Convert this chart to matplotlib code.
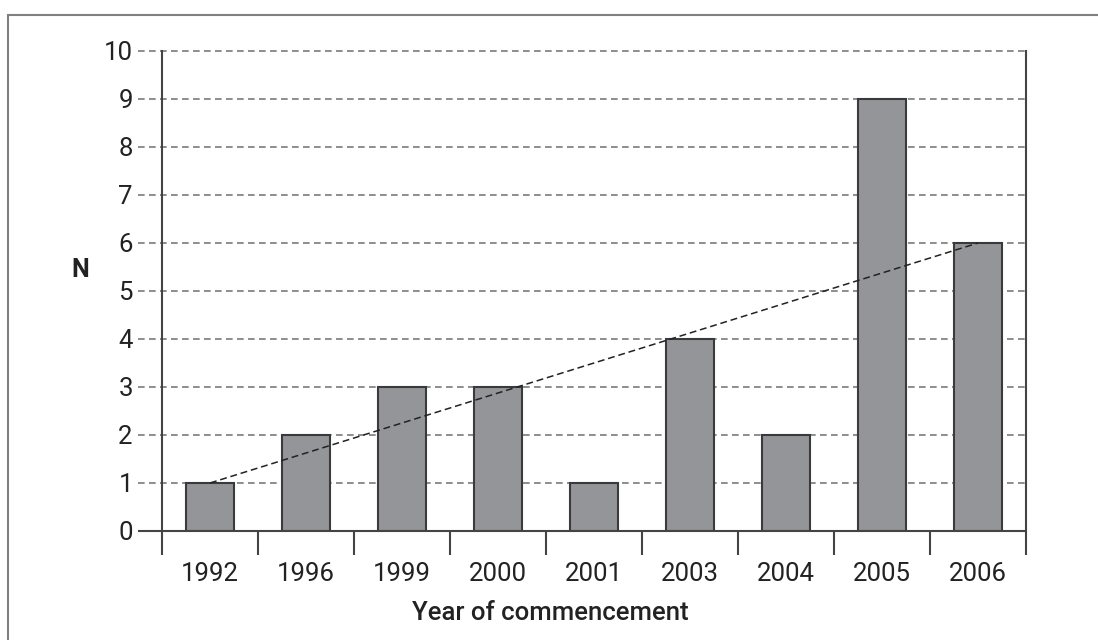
import numpy as np
import matplotlib.pyplot as plt
from matplotlib.patches import Rectangle

years = ['1992', '1996', '1999', '2000', '2001', '2003', '2004', '2005', '2006']
counts = [1, 2, 3, 3, 1, 4, 2, 9, 6]
y_ticks = list(range(0, 11))

plt.rcParams['font.family'] = ['Roboto', 'DejaVu Sans']

fig = plt.figure(figsize=(10.98, 6.4), dpi=100)
ax = fig.add_axes([162 / 1098, 1 - 531 / 640, 864 / 1098, 480 / 640])

x = np.arange(len(years))

# dashed gridlines that poke out to the left of the axis
ax.hlines(y_ticks[1:], -0.028, 1, transform=ax.get_yaxis_transform(),
          colors='#7a7a7a', linestyles=(0, (4, 2.6)), linewidth=1.2,
          clip_on=False, zorder=1)
# solid baseline
ax.hlines(0, -0.028, 1, transform=ax.get_yaxis_transform(),
          colors='#444444', linewidth=1.5, clip_on=False, zorder=4)

ax.bar(x, counts, width=0.5, color='#939598', edgecolor='#3a3a3a',
       linewidth=1.5, zorder=3)

# trend line from first to last bar top
ax.plot([x[0], x[-1]], [counts[0], counts[-1]], color='#222222',
        linestyle=(0, (4.5, 2.5)), linewidth=1.1, zorder=5)

ax.set_xlim(-0.5, len(years) - 0.5)
ax.set_ylim(0, 10)

ax.spines['top'].set_visible(False)
ax.spines['bottom'].set_visible(False)
ax.spines['left'].set_color('#444444')
ax.spines['right'].set_color('#444444')
ax.spines['left'].set_linewidth(1.5)
ax.spines['right'].set_linewidth(1.5)

ax.set_yticks(y_ticks)
ax.set_yticklabels([str(v) for v in y_ticks])
ax.tick_params(axis='y', length=0, pad=21, labelsize=18.5, labelcolor='#222222')

ax.set_xticks(x)
ax.set_xticklabels(years)
ax.set_xticks(np.arange(-0.5, len(years)), minor=True)
ax.tick_params(axis='x', which='major', length=0, pad=22, labelsize=18.5,
               labelcolor='#222222')
ax.tick_params(axis='x', which='minor', length=17, width=1.5,
               color='#444444', direction='out')

ax.set_ylabel('N', rotation=0, fontsize=18, fontweight='bold',
              color='#222222', ha='center', va='center')
ax.yaxis.set_label_coords(-0.095, 0.544)
ax.set_xlabel('Year of commencement', fontsize=18.5, fontweight='medium',
              color='#222222', ha='center', va='center')
ax.xaxis.set_label_coords(0.45, -0.171)

# outer frame
fig.patches.append(Rectangle((8 / 1098, -0.1), 1.2, 1.1 - 15 / 640,
                             transform=fig.transFigure, fill=False,
                             edgecolor='#808080', linewidth=1.5))

fig.savefig('out.png', dpi=100)
